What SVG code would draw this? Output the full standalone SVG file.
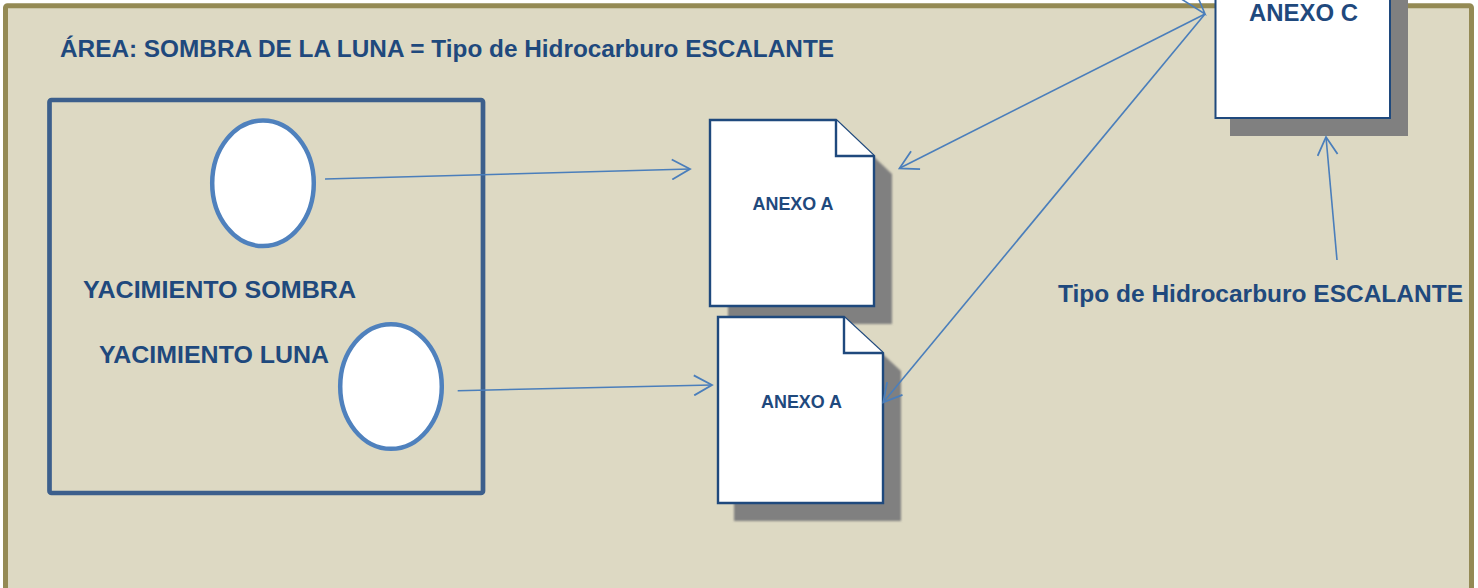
<svg xmlns="http://www.w3.org/2000/svg" width="1478" height="588" viewBox="0 0 1478 588">
<style>
.t{font-family:"Liberation Sans",Arial,sans-serif;font-weight:bold;fill:#1f497d}
.doc{fill:#ffffff;stroke:#1f497d;stroke-width:2.4}
.shadow{fill:#808080}
.ell{fill:#ffffff;stroke:#4f81bd;stroke-width:4.5}
.con{fill:none;stroke:#4a7ebb;stroke-width:1.6}
</style>
<defs>
<marker id="ah" markerUnits="userSpaceOnUse" viewBox="0 0 22 22" markerWidth="22" markerHeight="22" refX="20" refY="11" orient="auto">
<path d="M2,1 L20,11 L2,21" fill="none" stroke="#4a7ebb" stroke-width="1.8"/>
</marker>
<filter id="blur" x="-10%" y="-10%" width="120%" height="120%"><feGaussianBlur stdDeviation="0.8"/></filter>
</defs>
<g id="frame">
<rect x="5.5" y="5.8" width="1466" height="600" rx="2" fill="#ddd9c3" stroke="#948a54" stroke-width="5"/>
<text class="t" x="60" y="57" font-size="24" textLength="774" lengthAdjust="spacingAndGlyphs">ÁREA: SOMBRA DE LA LUNA = Tipo de Hidrocarburo ESCALANTE</text>
</g>
<g id="area">
<rect x="49.5" y="100" width="433.5" height="393" rx="2" fill="none" stroke="#3c5f8c" stroke-width="4.7"/>
</g>
<g id="sombra">
<ellipse class="ell" cx="263" cy="183.3" rx="50.8" ry="62.8"/>
<text class="t" x="83" y="298" font-size="24.8" textLength="273" lengthAdjust="spacingAndGlyphs">YACIMIENTO SOMBRA</text>
</g>
<g id="luna">
<ellipse class="ell" cx="391" cy="386.5" rx="50.8" ry="62.3"/>
<text class="t" x="99" y="363" font-size="24.6" textLength="230" lengthAdjust="spacingAndGlyphs">YACIMIENTO LUNA</text>
</g>
<g id="anexoA1">
<path class="shadow" filter="url(#blur)" d="M728,138 H854 L892,174 V324 H728 Z"/>
<path class="doc" d="M710,120 H836 L874,156 V306 H710 Z"/>
<path class="doc" d="M836,120 V156 H874"/>
<text class="t" x="793" y="210" font-size="17.8" text-anchor="middle" textLength="81" lengthAdjust="spacingAndGlyphs">ANEXO A</text>
</g>
<g id="anexoA2">
<path class="shadow" filter="url(#blur)" d="M734,335 H862 L901,371 V521 H734 Z"/>
<path class="doc" d="M718,317 H844 L883,353 V503 H718 Z"/>
<path class="doc" d="M844,317 V353 H883"/>
<text class="t" x="801.5" y="407.5" font-size="17.8" text-anchor="middle" textLength="81" lengthAdjust="spacingAndGlyphs">ANEXO A</text>
</g>
<g id="anexoC">
<rect class="shadow" x="1230" y="-10" width="178" height="146"/>
<rect x="1215.5" y="-28" width="174.5" height="146" fill="#ffffff" stroke="#1f497d" stroke-width="2"/>
<text class="t" x="1303.5" y="21" font-size="23.5" text-anchor="middle" textLength="109" lengthAdjust="spacingAndGlyphs">ANEXO C</text>
</g>
<g id="tipo">
<text class="t" x="1058" y="302" font-size="24.5" textLength="405" lengthAdjust="spacingAndGlyphs">Tipo de Hidrocarburo ESCALANTE</text>
</g>
<g id="connectors">
<line class="con" x1="325" y1="179" x2="690" y2="169" marker-end="url(#ah)"/>
<line class="con" x1="457.7" y1="390.7" x2="712" y2="385" marker-end="url(#ah)"/>
<line class="con" x1="1205" y1="14" x2="899.5" y2="168.3" marker-end="url(#ah)"/>
<line class="con" x1="1205" y1="14" x2="883.3" y2="402.3" marker-end="url(#ah)"/>
<line class="con" x1="1337" y1="260" x2="1326" y2="137" marker-end="url(#ah)"/>
<path class="con" d="M1175,-5 L1205,14 L1197,-5"/>
</g>
</svg>
